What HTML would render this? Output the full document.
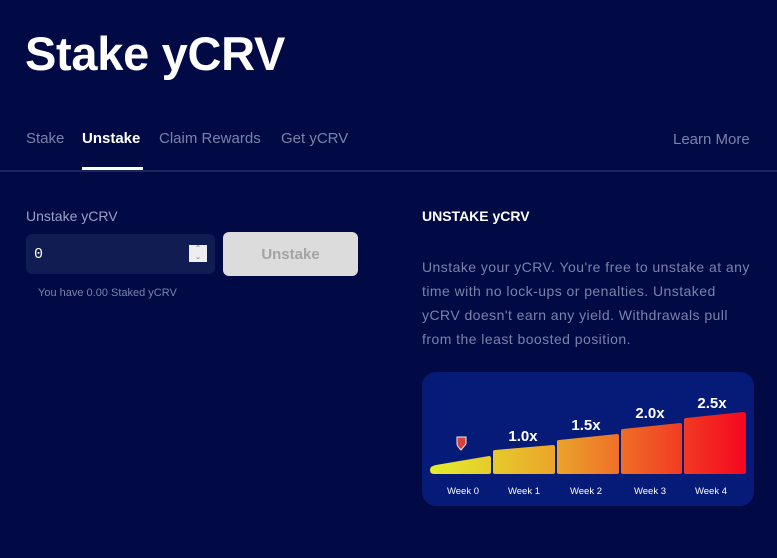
<!DOCTYPE html>
<html><head><style>
body{margin:0;width:777px;height:558px;background:#010a45;font-family:"Liberation Sans",sans-serif;overflow:hidden;position:relative;color:#fff}
.a{position:absolute;white-space:nowrap}
</style></head><body>
<div class="a" style="left:25px;top:26px;font-size:47px;font-weight:bold;letter-spacing:-0.3px">Stake yCRV</div>
<div class="a" style="left:26px;top:130px;font-size:15px;color:#7b82a8">Stake</div>
<div class="a" style="left:82px;top:130px;font-size:15px;font-weight:bold;color:#fff">Unstake</div>
<div class="a" style="left:82px;top:167px;width:61px;height:3px;background:#fff"></div>
<div class="a" style="left:159px;top:130px;font-size:15px;color:#7b82a8">Claim Rewards</div>
<div class="a" style="left:281px;top:130px;font-size:15px;color:#7b82a8">Get yCRV</div>
<div class="a" style="left:673px;top:131px;font-size:15px;color:#7b82a8">Learn More</div>
<div class="a" style="left:0;top:170px;width:777px;height:2px;background:#1c2560"></div>
<div class="a" style="left:26px;top:208px;font-size:14px;color:#9aa0c4">Unstake yCRV</div>
<div class="a" style="left:26px;top:234px;width:189px;height:40px;background:#111c52;border-radius:6px"></div>
<div class="a" style="left:34px;top:246px;font-size:15px;font-family:'Liberation Mono',monospace;color:#fff">0</div>
<div class="a" style="left:189px;top:245px;width:18px;height:17px;background:#eee;color:#888;font-size:8px;line-height:8px;text-align:center">⌃<br>⌄</div>
<div class="a" style="left:223px;top:232px;width:135px;height:44px;background:#dcdcdc;border-radius:6px;color:#a3a3a3;font-weight:bold;font-size:15px;text-align:center;line-height:46px">Unstake</div>
<div class="a" style="left:38px;top:287px;font-size:11px;color:#7b82a8">You have 0.00 Staked yCRV</div>
<div class="a" style="left:422px;top:208px;font-size:14px;font-weight:bold">UNSTAKE yCRV</div>
<div class="a" style="left:422px;top:255px;font-size:14px;letter-spacing:0.45px;line-height:24px;color:#7b82a8">Unstake your yCRV. You're free to unstake at any<br>time with no lock-ups or penalties. Unstaked<br>yCRV doesn't earn any yield. Withdrawals pull<br>from the least boosted position.</div>
<svg class="a" style="left:422px;top:372px" width="332" height="134" viewBox="422 372 332 134">
<defs><linearGradient id="g" x1="430" x2="746" y1="0" y2="0" gradientUnits="userSpaceOnUse"><stop offset="0" stop-color="#e2ee2c"/><stop offset="0.4" stop-color="#eba42b"/><stop offset="1" stop-color="#f5061f"/></linearGradient></defs>
<rect x="422" y="372" width="332" height="134" rx="14" fill="#061a78"/>
<g fill="url(#g)">
<path d="M436 465 L489 456 Q491 456 491 458 L491 472 Q491 474 489 474 L434 474 Q430 474 430 470 Q430 466 436 465Z"/>
<path d="M495 450 L553 445 Q555 445 555 447 L555 472 Q555 474 553 474 L495 474 Q493 474 493 472 L493 452 Q493 450 495 450Z"/>
<path d="M559 440 L617 434 Q619 434 619 436 L619 472 Q619 474 617 474 L559 474 Q557 474 557 472 L557 442 Q557 440 559 440Z"/>
<path d="M623 429 L680 423 Q682 423 682 425 L682 472 Q682 474 680 474 L623 474 Q621 474 621 472 L621 431 Q621 429 623 429Z"/>
<path d="M686 418 L743 412 Q746 412 746 415 L746 472 Q746 474 744 474 L686 474 Q684 474 684 472 L684 420 Q684 418 686 418Z"/>
</g>
<path d="M457 437 L466 437 L466 444 Q461 450 461 450 Q457 446 457 444Z" fill="#d94040" stroke="#eee" stroke-width="1"/>
<g fill="#fff" font-weight="bold" font-size="15" text-anchor="middle" font-family="Liberation Sans">
<text x="523" y="441">1.0x</text><text x="586" y="430">1.5x</text><text x="650" y="418">2.0x</text><text x="712" y="408">2.5x</text></g>
<g fill="#fff" font-size="9.5" text-anchor="middle" font-family="Liberation Sans">
<text x="463" y="494">Week 0</text><text x="524" y="494">Week 1</text><text x="586" y="494">Week 2</text><text x="650" y="494">Week 3</text><text x="711" y="494">Week 4</text></g>
</svg>
</body></html>
